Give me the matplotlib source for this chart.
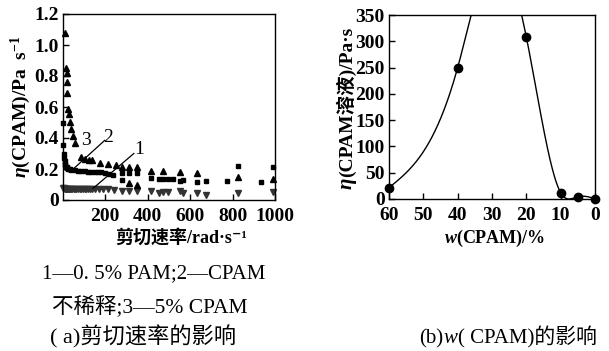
import numpy as np
import matplotlib
matplotlib.use("Agg")
import matplotlib.pyplot as plt
from matplotlib.ticker import FuncFormatter
from matplotlib.font_manager import FontProperties

FAM = ['Liberation Serif', 'Noto Sans CJK SC', 'DejaVu Sans']
plt.rcParams['font.family'] = FAM
plt.rcParams['mathtext.fontset'] = 'custom'
plt.rcParams['mathtext.rm'] = 'Liberation Serif:bold'
plt.rcParams['mathtext.it'] = 'Liberation Serif:italic'
plt.rcParams['mathtext.bf'] = 'Liberation Serif:bold:italic'

# ---------------- panel (a) data ----------------
# series 1: 0.5% PAM (inverted triangles)
x1 = [3, 6, 9, 12, 15, 18, 22, 26, 30, 35, 40, 46, 52, 58, 65, 72, 80, 88, 96, 104,
      112, 120, 130, 140, 150, 170, 190, 213, 240, 278, 314, 348, 414, 455, 474, 494,
      552, 568, 631, 675, 824, 992]
y1 = [0.078, 0.075, 0.073, 0.072, 0.071, 0.071, 0.070, 0.070, 0.070, 0.070, 0.070, 0.070,
      0.070, 0.070, 0.070, 0.070, 0.070, 0.070, 0.070, 0.070, 0.070, 0.070, 0.070, 0.070,
      0.068, 0.068, 0.068, 0.068, 0.066, 0.060, 0.060, 0.055, 0.058, 0.047, 0.052, 0.050,
      0.058, 0.045, 0.047, 0.032, 0.047, 0.050]
# series 2: undiluted CPAM (squares)
x2 = [3, 3, 5, 7, 9, 11, 13, 15, 18, 22, 26, 30, 35, 41, 56, 70, 88, 105, 120, 135,
      150, 166, 182, 198, 217, 237, 278, 278, 314, 348, 414, 455, 474, 494, 518, 552,
      568, 631, 675, 772, 824, 934, 992]
y2 = [0.495, 0.355, 0.300, 0.270, 0.250, 0.235, 0.225, 0.215, 0.210, 0.205, 0.200, 0.200,
      0.198, 0.195, 0.194, 0.190, 0.187, 0.185, 0.183, 0.183, 0.180, 0.183, 0.178, 0.176,
      0.170, 0.160, 0.172, 0.130, 0.176, 0.172, 0.140, 0.134, 0.134, 0.134, 0.134, 0.125,
      0.130, 0.118, 0.125, 0.125, 0.221, 0.114, 0.210]
# series 3: 5% CPAM (triangles)
x3 = [9, 17, 18, 19, 20, 25, 30, 34, 41, 48, 60, 85, 103, 122, 140, 174, 213, 252, 279,
      314, 348, 314, 348, 414, 474, 552, 631, 824, 992]
y3 = [1.08, 0.85, 0.82, 0.76, 0.69, 0.59, 0.555, 0.505, 0.456, 0.41, 0.366, 0.28, 0.262,
      0.258, 0.258, 0.24, 0.232, 0.226, 0.215, 0.215, 0.215, 0.112, 0.100, 0.189, 0.190,
      0.180, 0.176, 0.150, 0.135]

# ---------------- panel (b) data ----------------
wb = [60, 40, 20, 10, 5, 0]
etab = [21.5, 250, 308, 12, 4.4, 0.6]
peak_w, peak_eta = 30, 460   # off-scale peak of the fitted curve


def natural_spline(xk, yk, xs):
    xk = np.asarray(xk, float); yk = np.asarray(yk, float)
    n = len(xk)
    h = np.diff(xk)
    A = np.zeros((n, n)); r = np.zeros(n)
    A[0, 0] = A[-1, -1] = 1
    for i in range(1, n - 1):
        A[i, i - 1] = h[i - 1]; A[i, i] = 2 * (h[i - 1] + h[i]); A[i, i + 1] = h[i]
        r[i] = 6 * ((yk[i + 1] - yk[i]) / h[i] - (yk[i] - yk[i - 1]) / h[i - 1])
    M = np.linalg.solve(A, r)
    out = np.empty_like(xs)
    for j, x in enumerate(xs):
        i = min(max(np.searchsorted(xk, x) - 1, 0), n - 2)
        t1 = xk[i + 1] - x; t0 = x - xk[i]
        out[j] = (M[i] * t1 ** 3 + M[i + 1] * t0 ** 3) / (6 * h[i]) \
            + (yk[i] / h[i] - M[i] * h[i] / 6) * t1 + (yk[i + 1] / h[i] - M[i + 1] * h[i] / 6) * t0
    return out


W, H = 609, 351
fig = plt.figure(figsize=(W / 100, H / 100), dpi=100)
ax1 = fig.add_axes([62.7 / W, 1 - 200 / H, 212.3 / W, 186 / H])
ax2 = fig.add_axes([389 / W, 1 - 199 / H, 206 / W, 184 / H])
renderer = fig.canvas.get_renderer()

tick_fp = FontProperties(family='Liberation Serif', weight='bold', size=14)

# panel a
ax1.plot(x1, y1, linestyle='none', marker='v', ms=4, color='#333333', clip_on=False)
ax1.plot(x2, y2, linestyle='none', marker='s', ms=3.5, color='black', clip_on=False)
ax1.plot(x3, y3, linestyle='none', marker='^', ms=4, color='black', clip_on=False)
ax1.set_xlim(0, 1000)
ax1.set_ylim(0, 1.2)
ax1.set_xticks([200, 400, 600, 800, 1000])
ax1.set_yticks([0, 0.2, 0.4, 0.6, 0.8, 1.0, 1.2])
ax1.yaxis.set_major_formatter(FuncFormatter(lambda v, p: '0' if v == 0 else f'{v:.1f}'))
ax1.set_ylabel(r'$\mathbf{\eta}$(CPAM)/Pa  s$^{-1}$', fontsize=14, fontweight='bold')
ax1.yaxis.set_label_coords(-0.14, 0.5)
ax1.set_xlabel('剪切速率/rad·s⁻¹', fontsize=13, fontweight='bold')
ax1.xaxis.set_label_coords(0.56, -0.155)
# annotation leaders
ax1.plot([53, 198], [0.204, 0.385], color='black', lw=0.9)
ax1.plot([143, 335], [0.075, 0.30], color='black', lw=0.9)
ax1.text(111, 0.387, '3', fontsize=14, ha='center', va='center')
ax1.text(215, 0.40, '2', fontsize=14, ha='center', va='center')
ax1.text(360, 0.325, '1', fontsize=14, ha='center', va='center')

# panel b
xs = np.linspace(0, 60, 400)
kx = sorted(wb + [peak_w])
ky = [dict(zip(wb + [peak_w], etab + [peak_eta]))[k] for k in kx]
ax2.plot(xs, natural_spline(kx, ky, xs), color='black', lw=1.0)
ax2.plot(wb, etab, linestyle='none', marker='o', ms=6, color='black', clip_on=False, zorder=5)
ax2.set_xlim(60, 0)
ax2.set_ylim(0, 350)
ax2.set_xticks([60, 50, 40, 30, 20, 10, 0])
ax2.set_yticks(range(0, 351, 50))
ax2.set_xlabel(r'$\mathbf{w}$(CPAM)/%', fontsize=13, fontweight='bold')
ax2.xaxis.set_label_coords(0.515, -0.155)

for ax in (ax1, ax2):
    ax.tick_params(direction='in', length=4, width=1, top=False, right=False)
    ax.tick_params(axis='x', pad=6)
    ax.tick_params(axis='y', pad=3)
    for lab in ax.get_xticklabels() + ax.get_yticklabels():
        lab.set_fontproperties(tick_fp)
    for s in ax.spines.values():
        s.set_linewidth(1.0)


def seq_text(pieces, x_px, y_px, rotation=0, center=True):
    """Place text pieces one after another (left->right, or bottom->top when rotated)."""
    widths = []
    for s, kw in pieces:
        t = fig.text(0, 0, s, rotation=rotation, **kw)
        bb = t.get_window_extent(renderer)
        widths.append(bb.height if rotation == 90 else bb.width)
        t.remove()
    total = sum(widths)
    pos = -total / 2 if center else 0
    for (s, kw), w in zip(pieces, widths):
        if rotation == 90:
            fig.text(x_px / W, 1 - (y_px - pos) / H, s, rotation=90, rotation_mode='anchor',
                     ha='left', va='baseline', **kw)
        else:
            fig.text((x_px + pos) / W, 1 - y_px / H, s, ha='left', va='baseline', **kw)
        pos += w


# panel b ylabel with italic eta
bold = dict(fontsize=14, fontweight='bold', family=FAM)
seq_text([('η', dict(fontsize=15, fontweight='bold', style='italic', family=FAM)),
          ('(CPAM溶液)/Pa·s', bold)], 352, 108, rotation=90)

fig.text(154 / W, 1 - 274 / H, '1—0. 5% PAM;2—CPAM', fontsize=15, ha='center', va='center')
fig.text(150 / W, 1 - 306 / H, '不稀释;3—5% CPAM', fontsize=15.5, ha='center', va='center')
fig.text(143 / W, 1 - 337 / H, '( a)剪切速率的影响', fontsize=16, ha='center', va='center')
reg = dict(fontsize=15, family=FAM)
seq_text([('(b)', reg), ('w', dict(fontsize=15, style='italic', family=FAM)),
          ('( CPAM)的影响', reg)], 508, 343)

fig.savefig('out.png', dpi=100)
